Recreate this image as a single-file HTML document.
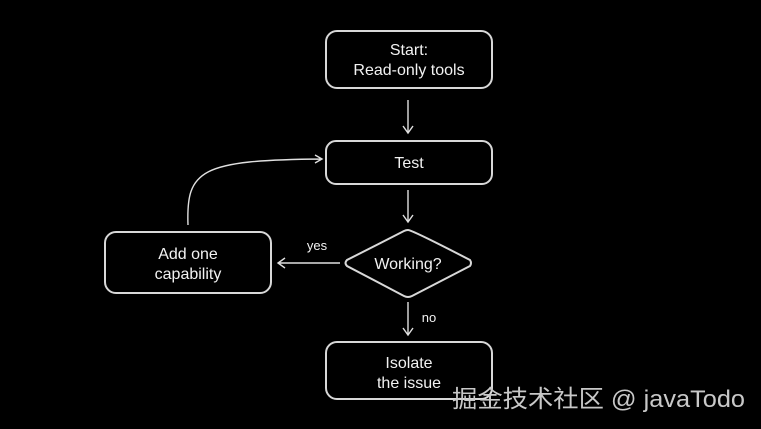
<!DOCTYPE html>
<html><head><style>
html,body{margin:0;padding:0;background:#000;width:761px;height:429px;overflow:hidden}
svg{display:block}
text{font-family:"Liberation Sans",sans-serif;fill:#f2f2f2}
</style></head><body>
<svg width="761" height="429" viewBox="0 0 761 429" xmlns="http://www.w3.org/2000/svg">
<g fill="none" stroke="#d8d8d8" stroke-width="2">
<rect x="326" y="31" width="166" height="57" rx="11"/>
<rect x="326" y="141" width="166" height="43" rx="10"/>
<rect x="105" y="232" width="166" height="61" rx="11"/>
<rect x="326" y="342" width="166" height="57" rx="11"/>
<path d="M408 230 Q412 230 470 260 Q472 263 470 266 L412 296 Q408 298 404 296 L347 266 Q344 263 347 260 L404 231 Q406 230 408 230Z"/>
</g>
<g fill="none" stroke="#e0e0e0" stroke-width="1.4">
<path d="M408 100 V133 M403 126 L408 133 L413 126"/>
<path d="M408 190 V222 M403 215 L408 222 L413 215"/>
<path d="M408 302 V335 M403 328 L408 335 L413 328"/>
<path d="M340 263 H278 M285 258 L278 263 L285 268"/>
<path d="M188 225 C186 170 200 160 322 159 M315 155 L322 159 L315 163"/>
</g>
<g font-size="16" text-anchor="middle">
<text x="409" y="55">Start:</text>
<text x="409" y="75">Read-only tools</text>
<text x="409" y="168">Test</text>
<text x="188" y="259">Add one</text>
<text x="188" y="279">capability</text>
<text x="408" y="269">Working?</text>
<text x="409" y="368">Isolate</text>
<text x="409" y="388">the issue</text>
<text x="317" y="250" font-size="13">yes</text>
<text x="429" y="322" font-size="13">no</text>
</g>
<text x="452" y="407" font-size="24" textLength="293" lengthAdjust="spacingAndGlyphs" style="fill:#c8c8c8;font-family:'Liberation Sans','Noto Sans CJK SC',sans-serif">掘金技术社区 @ javaTodo</text>
</svg>
</body></html>
